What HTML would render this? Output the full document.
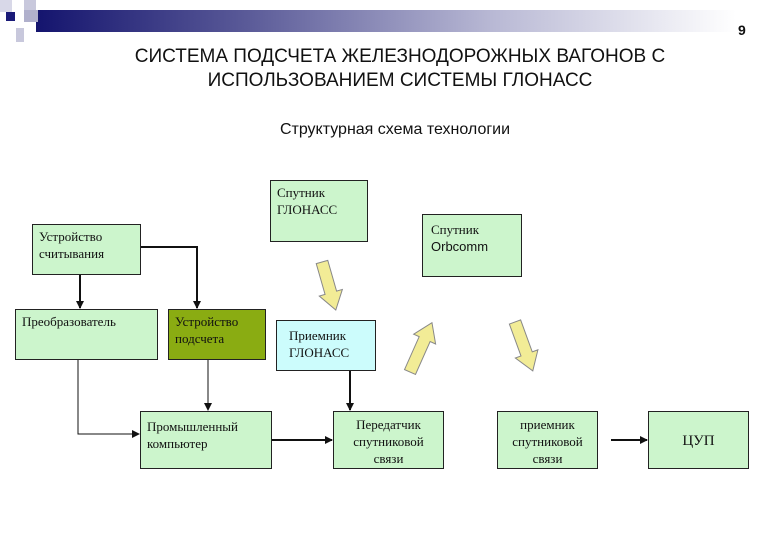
<!DOCTYPE html>
<html><head><meta charset="utf-8"><style>
body{margin:0;width:780px;height:540px;background:#fff;position:relative;overflow:hidden;font-family:"Liberation Serif",serif}
.b{position:absolute;border:1px solid #222;background:#ccf5cc;box-sizing:border-box;font-size:13px;line-height:17px;color:#111;padding:3px 6px}
.t{position:absolute;font-family:"Liberation Sans",sans-serif;color:#111;text-align:center}
</style></head><body>
<div style="position:absolute;left:36px;top:10px;width:700px;height:22px;background:linear-gradient(90deg,#14146e 0%,#5a5a98 30%,#b8b8d4 65%,#fff 100%)"></div>
<div style="position:absolute;left:0;top:0;width:12px;height:12px;background:#d8d8e8"></div>
<div style="position:absolute;left:24px;top:0;width:12px;height:10px;background:#c8c8dc"></div>
<div style="position:absolute;left:6px;top:12px;width:9px;height:9px;background:#1a1a78"></div>
<div style="position:absolute;left:24px;top:10px;width:14px;height:12px;background:#b0b0cc"></div>
<div style="position:absolute;left:16px;top:28px;width:8px;height:14px;background:#c8c8dc"></div>
<div class="t" style="left:738px;top:22px;font-size:14px;font-weight:bold">9</div>
<div class="t" style="left:40px;top:45px;width:720px;font-size:19px;line-height:24px">СИСТЕМА ПОДСЧЕТА ЖЕЛЕЗНОДОРОЖНЫХ ВАГОНОВ С<br>ИСПОЛЬЗОВАНИЕМ СИСТЕМЫ ГЛОНАСС</div>
<div class="t" style="left:200px;top:121px;width:390px;font-size:16px">Структурная схема технологии</div>

<div class="b" style="left:270px;top:180px;width:98px;height:62px">Спутник<br>ГЛОНАСС</div>
<div class="b" style="left:422px;top:214px;width:100px;height:63px;padding-left:8px;padding-top:6px">Спутник<br><span style="font-family:'Liberation Sans',sans-serif">Orbcomm</span></div>
<div class="b" style="left:32px;top:224px;width:109px;height:51px">Устройство<br>считывания</div>
<div class="b" style="left:15px;top:309px;width:143px;height:51px;padding-left:6px">Преобразователь</div>
<div class="b" style="left:168px;top:309px;width:98px;height:51px;background:#8aac12">Устройство<br>подсчета</div>
<div class="b" style="left:276px;top:320px;width:100px;height:51px;background:#ccfcfc;padding:6px 12px">Приемник<br>ГЛОНАСС</div>
<div class="b" style="left:140px;top:411px;width:132px;height:58px;padding-top:6px">Промышленный<br>компьютер</div>
<div class="b" style="left:333px;top:411px;width:111px;height:58px;text-align:center;padding:4px 2px">Передатчик<br>спутниковой<br>связи</div>
<div class="b" style="left:497px;top:411px;width:101px;height:58px;text-align:center;padding:4px 2px">приемник<br>спутниковой<br>связи</div>
<div class="b" style="left:648px;top:411px;width:101px;height:58px;text-align:center;padding-top:21px;font-size:15px">ЦУП</div>

<svg width="780" height="540" style="position:absolute;left:0;top:0" xmlns="http://www.w3.org/2000/svg">
<defs><marker id="a" markerWidth="8" markerHeight="8" refX="7" refY="4" orient="auto" markerUnits="userSpaceOnUse"><path d="M0,0L8,4L0,8z" fill="#111"/></marker></defs>
<g stroke="#111" fill="none" stroke-width="2">
<line x1="80" y1="275" x2="80" y2="308" marker-end="url(#a)"/>
<polyline points="141,247 197,247 197,308" marker-end="url(#a)"/>
<line x1="350" y1="371" x2="350" y2="410" marker-end="url(#a)"/>
<line x1="272" y1="440" x2="332" y2="440" marker-end="url(#a)"/>
<line x1="611" y1="440" x2="647" y2="440" marker-end="url(#a)"/>
</g>
<g stroke="#111" fill="none" stroke-width="1">
<line x1="208" y1="360" x2="208" y2="410" marker-end="url(#a)"/>
<polyline points="78,360 78,434 139,434" marker-end="url(#a)"/>
</g>
<g fill="#f2ec96" stroke="#888" stroke-width="1">
<g transform="translate(322,262) rotate(-16)"><path d="M-6,0L6,0L6,32L12,32L0,50L-12,32L-6,32z"/></g>
<g transform="translate(410,372) rotate(-156)"><path d="M-6,0L6,0L6,36L12,36L0,54L-12,36L-6,36z"/></g>
<g transform="translate(515,322) rotate(-20)"><path d="M-6,0L6,0L6,34L12,34L0,52L-12,34L-6,34z"/></g>
</g>
</svg>
</body></html>
